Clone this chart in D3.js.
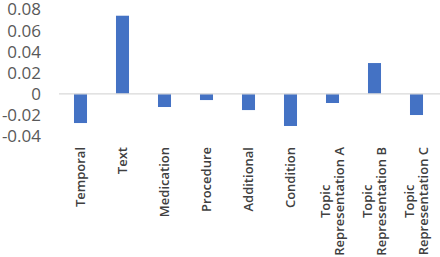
<!DOCTYPE html>
<html><head><meta charset="utf-8">
<script src="https://cdn.jsdelivr.net/npm/d3@7"></script>
<style>body{margin:0;background:#fff}svg{display:block}</style>
</head><body>
<svg id="c" width="440" height="257"></svg>
<script>
const categories = ["Temporal","Text","Medication","Procedure","Additional","Condition","Topic\nRepresentation A","Topic\nRepresentation B","Topic\nRepresentation C"];
const values = [-0.0277, 0.0741, -0.0125, -0.0059, -0.0154, -0.0305, -0.0087, 0.0292, -0.0201];
const yTicks = [-0.04, -0.02, 0, 0.02, 0.04, 0.06, 0.08];
const tickLabels = ["-0.04","-0.02","0","0.02","0.04","0.06","0.08"];

const svg = d3.select("#c");
const x = d3.scaleBand().domain(categories).range([59.5, 437.5]).paddingInner(0.69).paddingOuter(0.345);
const y = d3.scaleLinear().domain([-0.04, 0.08]).range([136, 9.5]);

// y tick labels
const yAxis = d3.axisLeft(y).tickValues(yTicks).tickFormat((d,i)=>tickLabels[i]).tickSize(0).tickPadding(0);
const ga = svg.append("g").attr("transform","translate(41,0)").call(yAxis);
ga.select(".domain").remove();
ga.selectAll("text").attr("font-family","Open Sans").attr("font-size","17px").attr("fill","#595959");

// bars
svg.append("g").selectAll("rect").data(values).join("rect")
  .attr("x",(d,i)=>x(categories[i]))
  .attr("width",x.bandwidth())
  .attr("y",d=>y(Math.max(0,d)))
  .attr("height",d=>Math.abs(y(d)-y(0)))
  .attr("fill","#4472C4");

// zero line
svg.append("line").attr("x1",59).attr("x2",440).attr("y1",y(0)).attr("y2",y(0))
  .attr("stroke","#d9d9d9").attr("stroke-width",1.2);

// x labels
const labelTop = 147, lh = 13.5;
categories.forEach((c,i)=>{
  const lines = c.split("\n");
  const cx = x(c) + x.bandwidth()/2;
  const g = svg.append("g");
  const texts = lines.map((t,j)=>g.append("text").text(t)
    .attr("font-family","Open Sans").attr("font-weight",600).attr("font-size","13px").attr("fill","#404040"));
  const maxLen = d3.max(texts, t=>t.node().getComputedTextLength());
  const n = lines.length;
  texts.forEach((t,j)=>{
    const lx = cx + (j-(n-1)/2)*lh + 4.5;
    t.attr("text-anchor","middle")
     .attr("transform",`translate(${lx},${labelTop+maxLen/2}) rotate(-90)`);
  });
});
</script>
</body></html>
